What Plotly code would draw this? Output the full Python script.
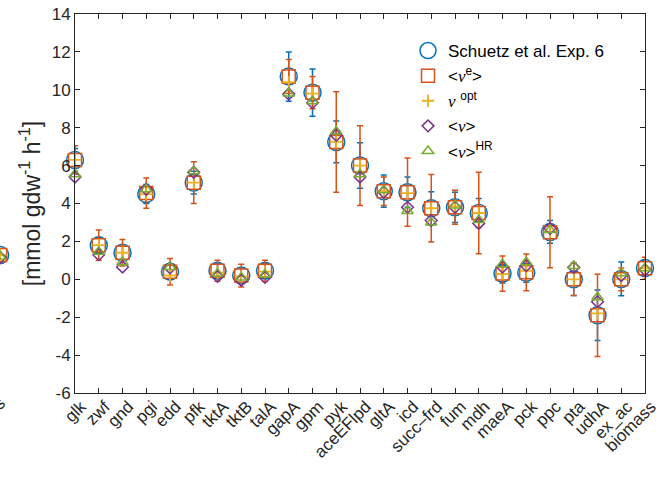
import plotly.graph_objects as go

categories = ["glk", "zwf", "gnd", "pgi", "edd", "pfk", "tktA", "tktB", "talA", "gapA",
              "gpm", "pyk", "aceEFlpd", "gltA", "icd", "succ–frd", "fum", "mdh", "maeA",
              "pck", "ppc", "pta", "udhA", "ex_ac", "biomass"]
positions = list(range(1, len(categories) + 1))

schuetz = [6.3, 1.8, 1.4, 4.5, 0.4, 5.1, 0.45, 0.2, 0.45, 10.7, 9.85, 7.25, 6.0, 4.65,
           4.6, 3.75, 3.8, 3.5, 0.3, 0.35, 2.5, 0.0, -1.9, 0.02, 0.6]
schuetz_err = [0.6, 0.4, 0.35, 0.5, 0.4, 0.6, 0.4, 0.4, 0.4, 1.3, 1.25, 1.1, 1.2, 0.85,
               0.8, 0.87, 0.8, 0.76, 0.5, 0.5, 0.6, 0.85, 1.33, 0.89, 0.4]
ve = [6.3, 1.8, 1.4, 4.55, 0.4, 5.1, 0.45, 0.2, 0.45, 10.7, 9.85, 7.25, 6.0, 4.65,
      4.6, 3.75, 3.8, 3.5, 0.3, 0.37, 2.48, 0.0, -1.9, 0.0, 0.58]
ve_err = [0.75, 0.8, 0.7, 0.8, 0.7, 1.1, 0.55, 0.6, 0.55, 0.9, 0.85, 2.65, 2.1, 0.75,
          1.8, 1.78, 0.9, 2.15, 0.93, 0.97, 1.87, 0.85, 2.17, 0.6, 0.58]
opt = [6.3, 1.8, 1.4, 4.5, 0.2, 5.1, 0.35, 0.15, 0.4, 10.4, 9.8, 7.25, 6.0, 4.65,
       4.55, 3.75, 3.85, 3.5, 0.28, 0.45, 2.5, 0.0, -1.8, 0.0, 0.58]
nu = [5.4, 1.3, 0.65, 4.75, 0.6, 5.65, 0.15, -0.05, 0.1, 9.78, 9.32, 7.6, 5.4, 4.6,
      3.8, 3.1, 3.8, 2.95, 0.65, 0.72, 2.69, 0.63, -1.18, 0.2, 0.5]
hr = [5.55, 1.45, 0.9, 4.75, 0.65, 5.7, 0.3, 0.1, 0.25, 9.8, 9.4, 7.8, 5.55, 4.7,
      3.6, 3.0, 3.9, 3.13, 0.79, 0.9, 2.6, 0.7, -0.95, 0.32, 0.58]

# neighbouring (cropped) panel on the left: only its last point is visible
prev_categories = ["biomass"]
prev_positions = [25]
prev_schuetz = [1.28]
prev_ve = [1.28]
prev_opt = [1.28]
prev_nu = [1.15]
prev_hr = [1.2]

y_ticks = list(range(-6, 15, 2))

BLUE = "#0072BD"
ORANGE = "#D95319"
YELLOW = "#EDB120"
PURPLE = "#7E2F8E"
GREEN = "#77AC30"
AX = "#262626"
FONT = "Liberation Sans, Arial, Helvetica, sans-serif"
NU = "<span style=\"font-family:'Liberation Serif', 'DejaVu Serif', serif\"><i>ν</i></span>"

names = ["Schuetz et al. Exp. 6",
         "&lt;" + NU + "<sup>e</sup>&gt;",
         NU + " <sup>opt</sup>",
         "&lt;" + NU + "&gt;",
         "&lt;" + NU + "&gt;<sup>HR</sup>"]


def add_series(fig, xs, sets, xaxis, yaxis, showlegend):
    (s, se, v, vee, o, n, h) = sets
    fig.add_trace(go.Scatter(
        x=xs, y=s, mode="markers", name=names[0], showlegend=showlegend,
        xaxis=xaxis, yaxis=yaxis, cliponaxis=False,
        marker=dict(symbol="circle-open", size=17, color=BLUE, line=dict(width=1.5, color=BLUE)),
        error_y=dict(type="data", array=se, visible=se is not None, color=BLUE, thickness=1.5, width=3)))
    fig.add_trace(go.Scatter(
        x=xs, y=v, mode="markers", name=names[1], showlegend=showlegend,
        xaxis=xaxis, yaxis=yaxis, cliponaxis=False,
        marker=dict(symbol="square-open", size=13, color=ORANGE, line=dict(width=1.5, color=ORANGE)),
        error_y=dict(type="data", array=vee, visible=vee is not None, color=ORANGE, thickness=1.5, width=3)))
    fig.add_trace(go.Scatter(
        x=xs, y=o, mode="markers", name=names[2], showlegend=showlegend,
        xaxis=xaxis, yaxis=yaxis, cliponaxis=False,
        marker=dict(symbol="cross-thin-open", size=9, color=YELLOW, line=dict(width=1.8, color=YELLOW))))
    fig.add_trace(go.Scatter(
        x=xs, y=n, mode="markers", name=names[3], showlegend=showlegend,
        xaxis=xaxis, yaxis=yaxis, cliponaxis=False,
        marker=dict(symbol="diamond-open", size=9, color=PURPLE, line=dict(width=1.5, color=PURPLE))))
    fig.add_trace(go.Scatter(
        x=xs, y=h, mode="markers", name=names[4], showlegend=showlegend,
        xaxis=xaxis, yaxis=yaxis, cliponaxis=False,
        marker=dict(symbol="triangle-up-open", size=10, color=GREEN, line=dict(width=1.5, color=GREEN))))


fig = go.Figure()
add_series(fig, prev_positions, (prev_schuetz, None, prev_ve, None, prev_opt, prev_nu, prev_hr),
           "x2", "y2", False)
add_series(fig, positions, (schuetz, schuetz_err, ve, ve_err, opt, nu, hr), "x", "y", True)

W, H = 671, 477
x0, x1 = 75, 645
y0, y1 = 14, 393

fig.update_layout(
    width=W, height=H,
    margin=dict(l=0, r=0, t=0, b=0, autoexpand=False),
    paper_bgcolor="white", plot_bgcolor="white",
    font=dict(family=FONT, size=17, color=AX),
    showlegend=True,
    legend=dict(x=408 / W, y=1 - 33 / H, xanchor="left", yanchor="top",
                bgcolor="rgba(0,0,0,0)", borderwidth=0,
                font=dict(family=FONT, size=17, color="black"),
                itemwidth=30, tracegroupgap=0),
    xaxis=dict(
        domain=[x0 / W, x1 / W], range=[1, 25], anchor="y",
        tickmode="array", tickvals=positions, ticktext=categories,
        tickangle=-45, ticks="inside", ticklen=5, tickcolor=AX, tickwidth=1,
        ticklabelshift=6, ticklabelstandoff=-4, ticklabeloverflow="allow",
        showline=True, linecolor=AX, linewidth=1, mirror="ticks",
        showgrid=False, zeroline=False, automargin=False,
        tickfont=dict(family=FONT, size=17, color=AX)),
    yaxis=dict(
        domain=[1 - y1 / H, 1 - y0 / H], range=[-6, 14], anchor="x",
        tickmode="array", tickvals=y_ticks, ticktext=[str(t) for t in y_ticks],
        ticks="inside", ticklen=5, tickcolor=AX, tickwidth=1,
        showline=True, linecolor=AX, linewidth=1, mirror="ticks",
        showgrid=False, zeroline=False, automargin=False,
        tickfont=dict(family=FONT, size=17, color=AX),
        title=dict(text="[mmol gdw<sup>-1</sup> h<sup>-1</sup>]",
                   font=dict(family=FONT, size=23, color=AX), standoff=4)),
    xaxis2=dict(
        domain=[0, 0.003], range=[24.9, 25.9], anchor="y2",
        tickmode="array", tickvals=prev_positions, ticktext=prev_categories,
        tickangle=-45, ticks="", showline=False, showgrid=False, zeroline=False,
        ticklabelshift=0, ticklabelstandoff=-4, ticklabeloverflow="allow",
        automargin=False, tickfont=dict(family=FONT, size=17, color=AX)),
    yaxis2=dict(
        domain=[1 - y1 / H, 1 - y0 / H], range=[-6, 14], anchor="x2",
        visible=False, showgrid=False, zeroline=False),
)

fig.write_html("out.html", config={"displayModeBar": False},
               post_script="document.body.style.margin='0px';")
